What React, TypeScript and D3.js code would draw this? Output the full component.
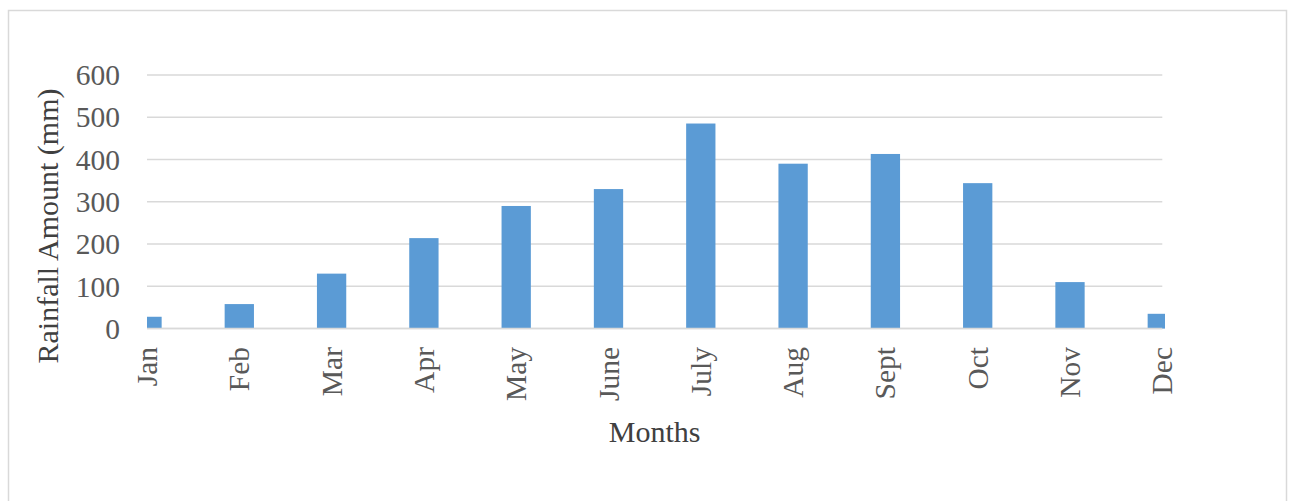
import { useEffect, useRef } from 'react'
import * as d3 from 'd3'

// Monthly rainfall
const months = ['Jan', 'Feb', 'Mar', 'Apr', 'May', 'June', 'July', 'Aug', 'Sept', 'Oct', 'Nov', 'Dec']
const rainfall = [28, 58, 130, 214, 290, 330, 485, 390, 413, 344, 110, 35]
const yTicks = [0, 100, 200, 300, 400, 500, 600]

const WIDTH = 1293
const HEIGHT = 501

const RainfallChart = () => {
  const svgRef = useRef<SVGSVGElement>(null)

  useEffect(() => {
    if (!svgRef.current) return
    d3.select(svgRef.current).selectAll('*').remove()
    const svg = d3.select(svgRef.current)

    const font = '"Liberation Serif", "Times New Roman", serif'
    const left = 147
    const right = 1162.3
    const bottom = 328.6
    const top = 74.9

    const x = d3.scalePoint<string>().domain(months).range([left, right])
    const y = d3.scaleLinear().domain([0, 600]).range([bottom, top])
    const barWidth = 29.3

    // Outer frame
    svg
      .append('rect')
      .attr('x', 8.5)
      .attr('y', 10.5)
      .attr('width', 1278)
      .attr('height', 520)
      .attr('fill', '#fff')
      .attr('stroke', '#d9d9d9')
      .attr('stroke-width', 1.5)

    svg
      .append('defs')
      .append('clipPath')
      .attr('id', 'plot-clip')
      .append('rect')
      .attr('x', left)
      .attr('y', 0)
      .attr('width', 1165 - left)
      .attr('height', HEIGHT)

    // Grid lines
    svg
      .append('g')
      .selectAll('line')
      .data(yTicks)
      .enter()
      .append('line')
      .attr('x1', left)
      .attr('x2', right)
      .attr('y1', (d) => y(d))
      .attr('y2', (d) => y(d))
      .attr('stroke', '#d9d9d9')
      .attr('stroke-width', 1.5)

    // Bars (end bars are half cut by the plot area)
    svg
      .append('g')
      .attr('clip-path', 'url(#plot-clip)')
      .selectAll('rect')
      .data(rainfall)
      .enter()
      .append('rect')
      .attr('x', (_, i) => (x(months[i]) as number) - barWidth / 2)
      .attr('width', barWidth)
      .attr('y', (d) => y(d))
      .attr('height', (d) => bottom - y(d))
      .attr('fill', '#5b9bd5')

    // Baseline on top of bars
    svg
      .append('line')
      .attr('x1', left)
      .attr('x2', right)
      .attr('y1', y(0))
      .attr('y2', y(0))
      .attr('stroke', '#d9d9d9')
      .attr('stroke-width', 1.5)

    // Y tick labels
    svg
      .append('g')
      .selectAll('text')
      .data(yTicks)
      .enter()
      .append('text')
      .attr('x', 120)
      .attr('y', (d) => y(d) + 10.3)
      .attr('text-anchor', 'end')
      .style('font-family', font)
      .style('font-size', '29.5px')
      .attr('fill', '#595959')
      .text((d) => d)

    // Month labels, rotated
    svg
      .append('g')
      .selectAll('text')
      .data(months)
      .enter()
      .append('text')
      .attr('transform', (d) => `translate(${(x(d) as number) + 10},347) rotate(-90)`)
      .attr('text-anchor', 'end')
      .style('font-family', font)
      .style('font-size', '29.5px')
      .attr('fill', '#595959')
      .text((d) => d)

    // Axis titles
    svg
      .append('text')
      .attr('x', (left + right) / 2)
      .attr('y', 442)
      .attr('text-anchor', 'middle')
      .style('font-family', font)
      .style('font-size', '30px')
      .attr('fill', '#404040')
      .text('Months')

    svg
      .append('text')
      .attr('transform', 'translate(58,226) rotate(-90)')
      .attr('text-anchor', 'middle')
      .style('font-family', font)
      .style('font-size', '30px')
      .attr('fill', '#404040')
      .text('Rainfall Amount (mm)')
  }, [])

  return (
    <svg
      ref={svgRef}
      width={WIDTH}
      height={HEIGHT}
      style={{ position: 'absolute', left: 0, top: 0, background: '#fff' }}
    />
  )
}

export default function App() {
  return <RainfallChart />
}
